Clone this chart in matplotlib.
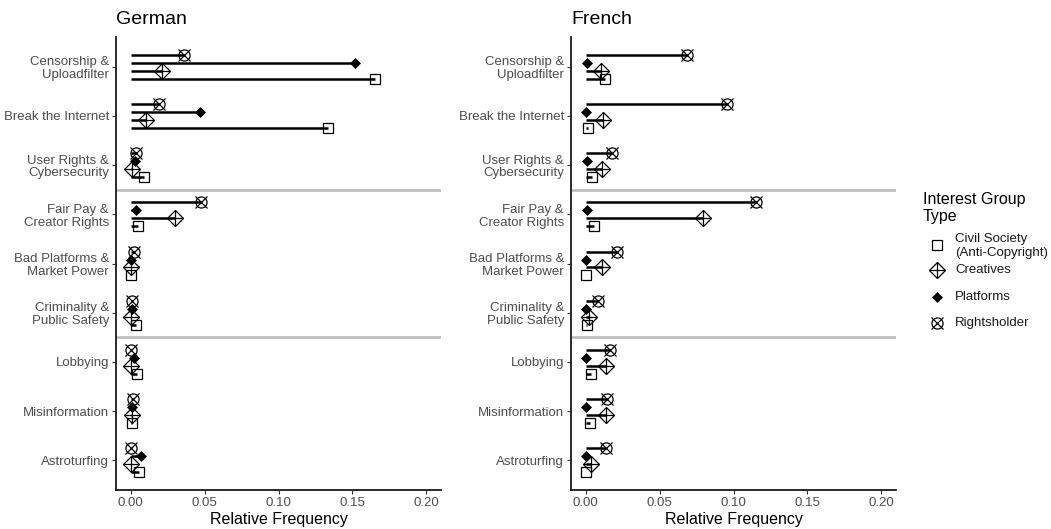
import matplotlib
matplotlib.use("Agg")
import matplotlib.pyplot as plt
import numpy as np

plt.rcParams['font.family'] = ['Liberation Sans', 'DejaVu Sans']

categories = [
    "Censorship &\nUploadfilter",
    "Break the Internet",
    "User Rights &\nCybersecurity",
    "Fair Pay &\nCreator Rights",
    "Bad Platforms &\nMarket Power",
    "Criminality &\nPublic Safety",
    "Lobbying",
    "Misinformation",
    "Astroturfing",
]
groups = ["Civil Society\n(Anti-Copyright)", "Creatives", "Platforms", "Rightsholder"]

# Relative frequency of each frame, per interest group type
german_civil = [0.165, 0.1335, 0.0092, 0.0049, 0.0, 0.0038, 0.0042, 0.001, 0.0054]
german_creatives = [0.0208, 0.0101, 0.0007, 0.0302, 0.0002, 0.0, 0.0, 0.001, 0.0]
german_platforms = [0.1515, 0.0468, 0.0027, 0.0036, 0.0004, 0.001, 0.002, 0.0007, 0.0072]
german_rightsholder = [0.0362, 0.0188, 0.0038, 0.0472, 0.0025, 0.001, 0.0, 0.0013, 0.0]

french_civil = [0.013, 0.0018, 0.004, 0.0056, 0.0, 0.001, 0.0034, 0.003, 0.0]
french_creatives = [0.0101, 0.0119, 0.0112, 0.0791, 0.011, 0.0025, 0.0139, 0.0139, 0.0036]
french_platforms = [0.0011, 0.0, 0.0009, 0.001, 0.0, 0.0, 0.0, 0.0, 0.0]
french_rightsholder = [0.0684, 0.0953, 0.0175, 0.115, 0.021, 0.0083, 0.0161, 0.0143, 0.0139]

x_ticks = [0.00, 0.05, 0.10, 0.15, 0.20]
x_tick_labels = ["0.00", "0.05", "0.10", "0.15", "0.20"]

panels = [
    ("German", [german_civil, german_creatives, german_platforms, german_rightsholder]),
    ("French", [french_civil, french_creatives, french_platforms, french_rightsholder]),
]

# vertical dodge of each group within a category (bottom to top: Civil, Creatives, Platforms, Rightsholder)
offsets = [0.243, 0.081, -0.081, -0.243]

text_grey = "#4d4d4d"


def marker_styles(idx):
    """Marker layers used for a group (drawn on top of each other)."""
    if idx == 0:
        return [dict(marker='s', markersize=7, markerfacecolor='none',
                     markeredgecolor='black', markeredgewidth=0.9)]
    if idx == 1:
        return [dict(marker='D', markersize=8, markerfacecolor='none',
                     markeredgecolor='black', markeredgewidth=0.9),
                dict(marker='+', markersize=11.5, markeredgecolor='black',
                     markeredgewidth=0.9)]
    if idx == 2:
        return [dict(marker='D', markersize=5.5, markerfacecolor='black',
                     markeredgecolor='black', markeredgewidth=0.5)]
    return [dict(marker='o', markersize=8, markerfacecolor='none',
                 markeredgecolor='black', markeredgewidth=0.9),
            dict(marker='x', markersize=8, markeredgecolor='black',
                 markeredgewidth=0.9)]


fig = plt.figure(figsize=(10.51, 5.29), dpi=100)
W, H = 1051, 529
axes_px = [(116, 441), (571, 896)]
top_px, bottom_px = 37, 490

n = len(categories)
ypos = np.arange(n)

for (title, series), (l, r) in zip(panels, axes_px):
    ax = fig.add_axes([l / W, 1 - bottom_px / H, (r - l) / W, (bottom_px - top_px) / H])
    for sep in (2.5, 5.5):
        ax.axhline(sep, color="#bebebe", lw=2.0, zorder=1)
    for gi, vals in enumerate(series):
        yy = ypos + offsets[gi]
        for xv, yv in zip(vals, yy):
            ax.plot([0, xv], [yv, yv], color="black", lw=1.8, solid_capstyle='butt', zorder=2)
        for st in marker_styles(gi):
            ax.plot(vals, yy, linestyle='none', zorder=3, **st)
    ax.set_xlim(-0.01, 0.21)
    ax.set_ylim(n - 1 + 0.6, -0.6)
    ax.set_yticks(ypos)
    ax.set_yticklabels(categories, fontsize=9.5, color=text_grey, linespacing=1.1)
    ax.set_xticks(x_ticks)
    ax.set_xticklabels(x_tick_labels, fontsize=9.5, color=text_grey)
    ax.tick_params(axis='both', length=3, width=0.8, color="#333333", pad=2)
    for s in ("top", "right"):
        ax.spines[s].set_visible(False)
    for s in ("left", "bottom"):
        ax.spines[s].set_linewidth(1.3)
        ax.spines[s].set_color("#1a1a1a")
    ax.set_xlabel("Relative Frequency", fontsize=11.5, color="black", labelpad=2)
    ax.set_title(title, loc='left', fontsize=14, pad=9)

# legend drawn in a pixel-coordinate overlay
lax = fig.add_axes([0, 0, 1, 1], facecolor='none')
lax.set_xlim(0, W)
lax.set_ylim(H, 0)
lax.axis('off')
lax.text(923, 208, "Interest Group\nType", fontsize=11.5, ha='left', va='center',
         linespacing=1.1)
key_y = [245, 270, 297, 323]
text_y = [246, 270, 297, 323]
for gi, (label, ky, ty) in enumerate(zip(groups, key_y, text_y)):
    for st in marker_styles(gi):
        lax.plot([937], [ky], linestyle='none', **st)
    lax.text(955, ty, label, fontsize=9.5, ha='left', va='center', linespacing=1.15,
             color="#1a1a1a")

fig.savefig("out.png", dpi=100)
